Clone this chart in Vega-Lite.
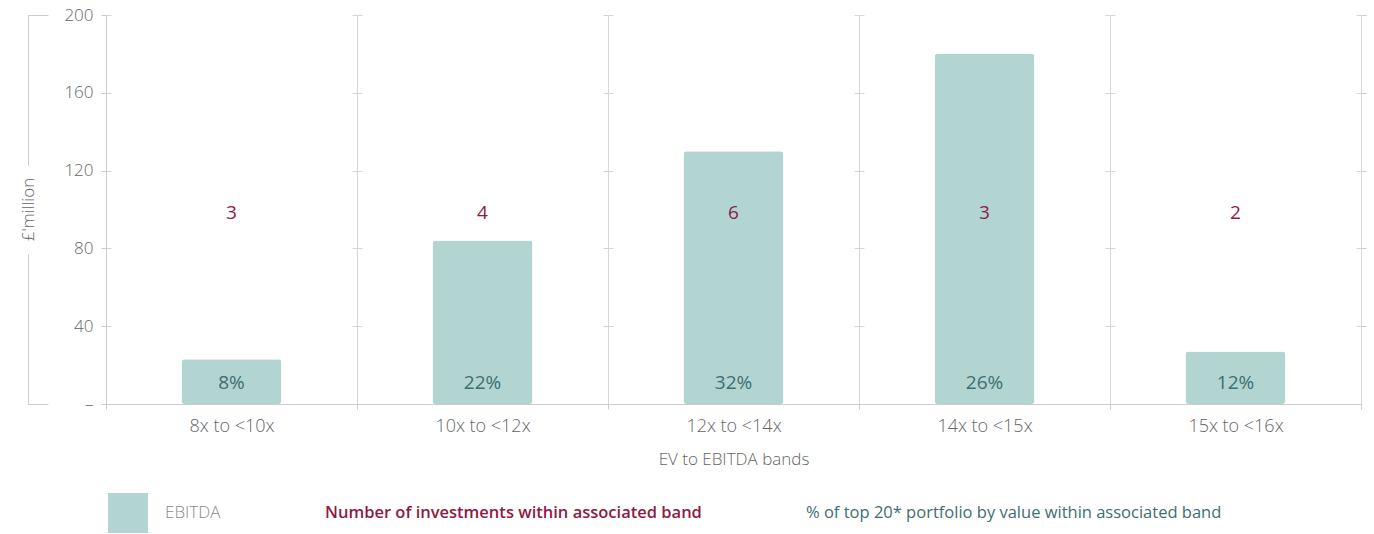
{
  "$schema": "https://vega.github.io/schema/vega-lite/v6.json",
  "width": 1255,
  "height": 389,
  "autosize": "none",
  "padding": {"left": 106, "top": 15, "right": 13, "bottom": 130},
  "background": "white",
  "config": {
    "view": {"stroke": null},
    "font": "Open Sans",
    "axis": {
      "labelFont": "Open Sans",
      "titleFont": "Open Sans",
      "labelColor": "#666666",
      "titleColor": "#666666",
      "labelFontWeight": 300,
      "titleFontWeight": 300,
      "domainColor": "#cccccc",
      "tickColor": "#cccccc",
      "gridColor": "#d6d6d6"
    }
  },
  "data": {
    "values": [
      {"band": "8x to <10x", "ebitda": 23, "count": "3", "pct": "8%", "series": "EBITDA"},
      {"band": "10x to <12x", "ebitda": 84, "count": "4", "pct": "22%", "series": "EBITDA"},
      {"band": "12x to <14x", "ebitda": 130, "count": "6", "pct": "32%", "series": "EBITDA"},
      {"band": "14x to <15x", "ebitda": 180, "count": "3", "pct": "26%", "series": "EBITDA"},
      {"band": "15x to <16x", "ebitda": 27, "count": "2", "pct": "12%", "series": "EBITDA"}
    ]
  },
  "layer": [
    {
      "mark": {"type": "bar", "cornerRadius": 3, "size": 100},
      "encoding": {
        "x": {
          "field": "band",
          "type": "nominal",
          "sort": null,
          "scale": {"paddingInner": 0, "paddingOuter": 0},
          "axis": {
            "title": "EV to EBITDA bands",
            "labelAngle": 0,
            "labelFontSize": 18,
            "titleFontSize": 17,
            "tickBand": "extent",
            "grid": true,
            "ticks": true,
            "tickSize": 5,
            "labelPadding": 8,
            "titlePadding": 16,
            "domain": true
          }
        },
        "y": {
          "field": "ebitda",
          "type": "quantitative",
          "scale": {"domain": [0, 200], "nice": false},
          "axis": {
            "orient": "left",
            "title": null,
            "values": [0, 40, 80, 120, 160, 200],
            "labelExpr": "datum.value === 0 ? '–' : datum.label",
            "labelFontSize": 17,
            "labelPadding": 8,
            "tickSize": 5,
            "domain": true,
            "grid": true,
            "gridDash": [5, 241, 5, 0]
          }
        },
        "color": {
          "field": "series",
          "type": "nominal",
          "scale": {
            "domain": ["EBITDA", "Number of investments within associated band", "% of top 20* portfolio by value within associated band"],
            "range": ["#b2d5d2", "#8e1a44", "#3e6e70"]
          },
          "legend": {
            "orient": "none",
            "legendX": 2,
            "legendY": 478,
            "direction": "horizontal",
            "title": null,
            "symbolType": "square",
            "symbolSize": 1600,
            "symbolStrokeWidth": 0,
            "labelLimit": 800,
            "labelOffset": 17,
            "columnPadding": 47,
            "labelFont": "Open Sans",
            "labelFontSize": 17,
            "encode": {
              "symbols": {"update": {"opacity": {"signal": "datum.value === 'EBITDA' ? 1 : 0"}}},
              "labels": {
                "update": {
                  "fill": {"signal": "datum.value === 'EBITDA' ? '#8a8a8a' : (indexof(datum.value, 'Number') === 0 ? '#8e1a44' : '#3e6e70')"},
                  "fontWeight": {"signal": "datum.value === 'EBITDA' ? 300 : (indexof(datum.value, 'Number') === 0 ? 600 : 400)"},
                  "fontSize": {"signal": "datum.value === 'EBITDA' ? 17 : 16.5"}
                }
              }
            }
          }
        }
      }
    },
    {
      "mark": {"type": "text", "baseline": "middle", "align": "center", "fontSize": 19, "color": "#8e1a44", "font": "Open Sans"},
      "encoding": {
        "x": {"field": "band", "type": "nominal", "sort": null},
        "y": {
          "datum": 98,
          "type": "quantitative",
          "axis": {
            "orient": "left",
            "offset": 78,
            "title": "£'million",
            "titleFontSize": 17,
            "titleX": 0,
            "titleY": 194,
            "titleAngle": -90,
            "titleAlign": "center",
            "titleBaseline": "middle",
            "labels": false,
            "values": [0, 200],
            "ticks": true,
            "tickSize": -20,
            "grid": false,
            "domain": true,
            "domainDash": [150, 89, 150]
          }
        },
        "text": {"field": "count"}
      }
    },
    {
      "mark": {"type": "text", "baseline": "middle", "align": "center", "fontSize": 19, "color": "#3e6e70", "font": "Open Sans"},
      "encoding": {
        "x": {"field": "band", "type": "nominal", "sort": null},
        "y": {
          "datum": 11,
          "type": "quantitative",
          "axis": {
            "orient": "right",
            "title": null,
            "labels": false,
            "values": [40, 80, 120, 160, 200],
            "ticks": true,
            "tickSize": 5,
            "grid": false,
            "domain": false
          }
        },
        "text": {"field": "pct"}
      }
    }
  ],
  "resolve": {"axis": {"y": "independent"}}
}
